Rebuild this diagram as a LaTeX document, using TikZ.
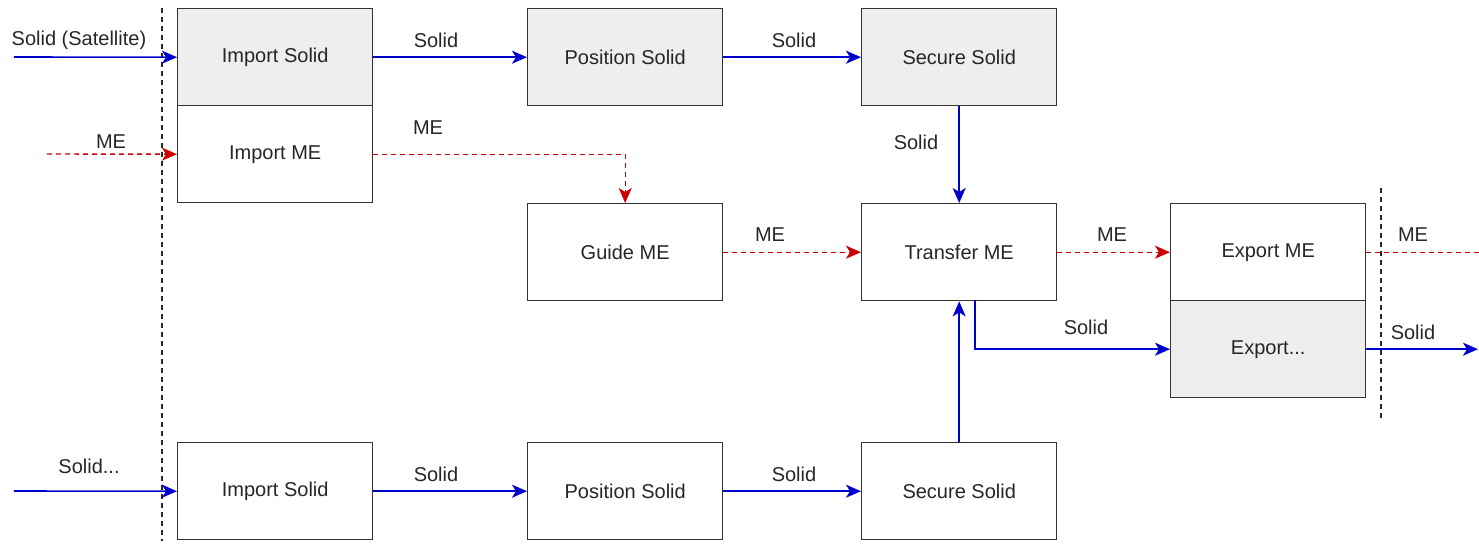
\documentclass[tikz,border=0pt]{standalone}
\usepackage{fontspec}
\setmainfont{Liberation Sans}
\usetikzlibrary{arrows.meta}
\definecolor{boxgray}{HTML}{EEEEEE}
\definecolor{boxline}{HTML}{333333}
\definecolor{sblue}{HTML}{0000CC}
\definecolor{mered}{HTML}{CC0000}
\begin{document}
\begin{tikzpicture}[x=1pt,y=-1pt,
  font=\fontsize{20}{24}\selectfont,
  blk/.style={draw=boxline,line width=1.4pt,minimum width=195pt,minimum height=97pt,inner sep=0pt,anchor=north west,text=black!85},
  grayblk/.style={blk,fill=boxgray},
  solidarr/.style={draw=sblue,line width=1.6pt,-{Stealth[length=15pt,width=13pt,inset=4pt]}},
  mearr/.style={draw=mered,line width=1.4pt,dash pattern=on 5pt off 4pt,-{Stealth[length=15pt,width=13pt,inset=4pt]}},
  meline/.style={draw=mered,line width=1.4pt,dash pattern=on 5pt off 4pt},
  bound/.style={draw=black!85,line width=1.4pt,dash pattern=on 5pt off 4pt},
  lbl/.style={text=black!85,inner sep=0pt}]
\useasboundingbox (0,0) rectangle (1479,544);
% boxes
\node[grayblk] (is1) at (177,8) {Import Solid};
\node[blk] (ime) at (177,105) {Import ME};
\node[grayblk] (ps1) at (527,8) {Position Solid};
\node[grayblk] (ss1) at (861,8) {Secure Solid};
\node[blk] (gme) at (527,203) {Guide ME};
\node[blk] (tme) at (861,203) {Transfer ME};
\node[blk] (eme) at (1170,203) {Export ME};
\node[grayblk] (exs) at (1170,300) {Export...};
\node[blk] (is2) at (177,442) {Import Solid};
\node[blk] (ps2) at (527,442) {Position Solid};
\node[blk] (ss2) at (861,442) {Secure Solid};
% boundaries
\coordinate (b1t) at (162,8); \coordinate (b1b) at (162,541);
\coordinate (b2t) at (1381,188); \coordinate (b2b) at (1381,418);
\draw[bound] (b1t) -- (b1b);
\draw[bound] (b2t) -- (b2b);
% inputs
\coordinate (in1) at (14,57);
\coordinate (in2) at (47,154);
\coordinate (in3) at (14,491);
\draw[solidarr] (in1) -- (is1.west);
\draw[mearr] (in2) -- (ime.west);
\draw[solidarr] (in3) -- (is2.west);
\node[lbl] (l1) at (79,40) {Solid (Satellite)};
\node[lbl] (l2) at (111,142) {ME};
\node[lbl] (l3) at (89,466) {Solid...};
% top row
\draw[solidarr] (is1.east) -- (ps1.west);
\draw[solidarr] (ps1.east) -- (ss1.west);
\node[lbl] (l4) at (436,40) {Solid};
\node[lbl] (l5) at (794,40) {Solid};
% ME path
\draw[mearr] (ime.east) -| (gme.north);
\node[lbl] (l6) at (428,128) {ME};
\draw[solidarr] (ss1.south) -- (tme.north);
\node[lbl] (l7) at (916,142) {Solid};
\draw[mearr] (gme.east) -- (tme.west);
\node[lbl] (l8) at (770,235) {ME};
\draw[mearr] (tme.east) -- (eme.west);
\node[lbl] (l9) at (1112,235) {ME};
\coordinate (out1) at (1479,251);
\draw[meline] (eme.east) -- (eme.east -| out1);
\node[lbl] (l10) at (1413,235) {ME};
% solid to export
\coordinate (tmb) at (975,300);
\draw[solidarr] (tmb) |- (exs.west);
\node[lbl] (l11) at (1086,327) {Solid};
\coordinate (out2) at (1478,350);
\draw[solidarr] (exs.east) -- (exs.east -| out2);
\node[lbl] (l12) at (1413,332) {Solid};
% bottom row
\draw[solidarr] (is2.east) -- (ps2.west);
\draw[solidarr] (ps2.east) -- (ss2.west);
\node[lbl] (l13) at (436,474) {Solid};
\node[lbl] (l14) at (794,474) {Solid};
\draw[solidarr] (ss2.north) -- (tme.south);
\end{tikzpicture}
\end{document}
